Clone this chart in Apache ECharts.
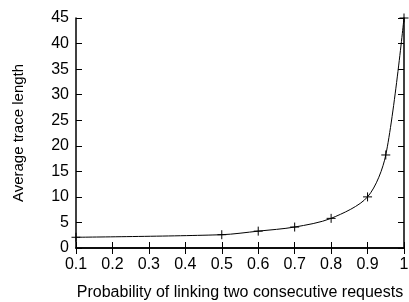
<!DOCTYPE html>
<html>
<head>
<meta charset="utf-8">
<script src="https://cdn.jsdelivr.net/npm/echarts@6/dist/echarts.min.js"></script>
<style>
  html, body { margin: 0; padding: 0; background: #fff; }
  #chart { width: 409px; height: 302px; }
</style>
</head>
<body>
<div id="chart"></div>
<script>
    // probability of linking -> average trace length
    var probs = [0.1, 0.5, 0.6, 0.7, 0.8, 0.9, 0.95, 1.0];
    var traceLen = [2.1, 2.6, 3.3, 4.1, 5.8, 10.0, 18.2, 45.0];

    var plus = 'path://M0,-5 L0,5 M-5,0 L5,0';
    var font = 'Liberation Sans, Arial, sans-serif';

    var chart = echarts.init(document.getElementById('chart'));

    var tickFmt = function (v) { return String(+v.toFixed(1)); };

    var option = {
        animation: false,
        grid: { left: 76, right: 5, top: 18, bottom: 54, outerBoundsMode: 'none' },
        xAxis: [
            {
                type: 'value',
                min: 0.1, max: 1, interval: 0.1,
                name: 'Probability of linking two consecutive requests',
                nameLocation: 'middle',
                nameGap: 37,
                nameTextStyle: { fontFamily: font, fontSize: 16, color: '#000' },
                axisLine: { lineStyle: { color: '#000', width: 1.5 } },
                axisTick: { inside: true, length: 6, lineStyle: { color: '#000' } },
                axisLabel: { formatter: tickFmt, fontFamily: font, fontSize: 16, color: '#000', margin: 9 },
                splitLine: { show: false }
            },
            {
                type: 'value', position: 'top',
                min: 0.1, max: 1, interval: 0.1,
                axisLine: { lineStyle: { color: '#000', width: 1.5 } },
                axisTick: { inside: true, length: 6, lineStyle: { color: '#000' } },
                axisLabel: { show: false },
                splitLine: { show: false }
            }
        ],
        yAxis: [
            {
                type: 'value',
                min: 0, max: 45, interval: 5,
                name: 'Average trace length',
                nameLocation: 'middle',
                nameGap: 50,
                nameTextStyle: { fontFamily: font, fontSize: 15, color: '#000' },
                axisLine: { show: true, lineStyle: { color: '#000', width: 1.5 } },
                axisTick: { show: true, inside: true, length: 6, lineStyle: { color: '#000' } },
                axisLabel: { fontFamily: font, fontSize: 16, color: '#000', margin: 7 },
                splitLine: { show: false }
            },
            {
                type: 'value', position: 'right',
                min: 0, max: 45, interval: 5,
                axisLine: { show: true, lineStyle: { color: '#000', width: 1.5 } },
                axisTick: { show: true, inside: true, length: 6, lineStyle: { color: '#000' } },
                axisLabel: { show: false },
                splitLine: { show: false }
            }
        ],
        series: [
            {
                type: 'line',
                data: probs.map(function (p, i) { return [p, traceLen[i]]; }),
                smooth: 0.3,
                symbol: plus,
                symbolSize: 9,
                showAllSymbol: true,
                lineStyle: { color: '#000', width: 1 },
                itemStyle: { color: 'none', borderColor: '#000', borderWidth: 1 }
            }
        ]
    };

    chart.setOption(option);
</script>
</body>
</html>
